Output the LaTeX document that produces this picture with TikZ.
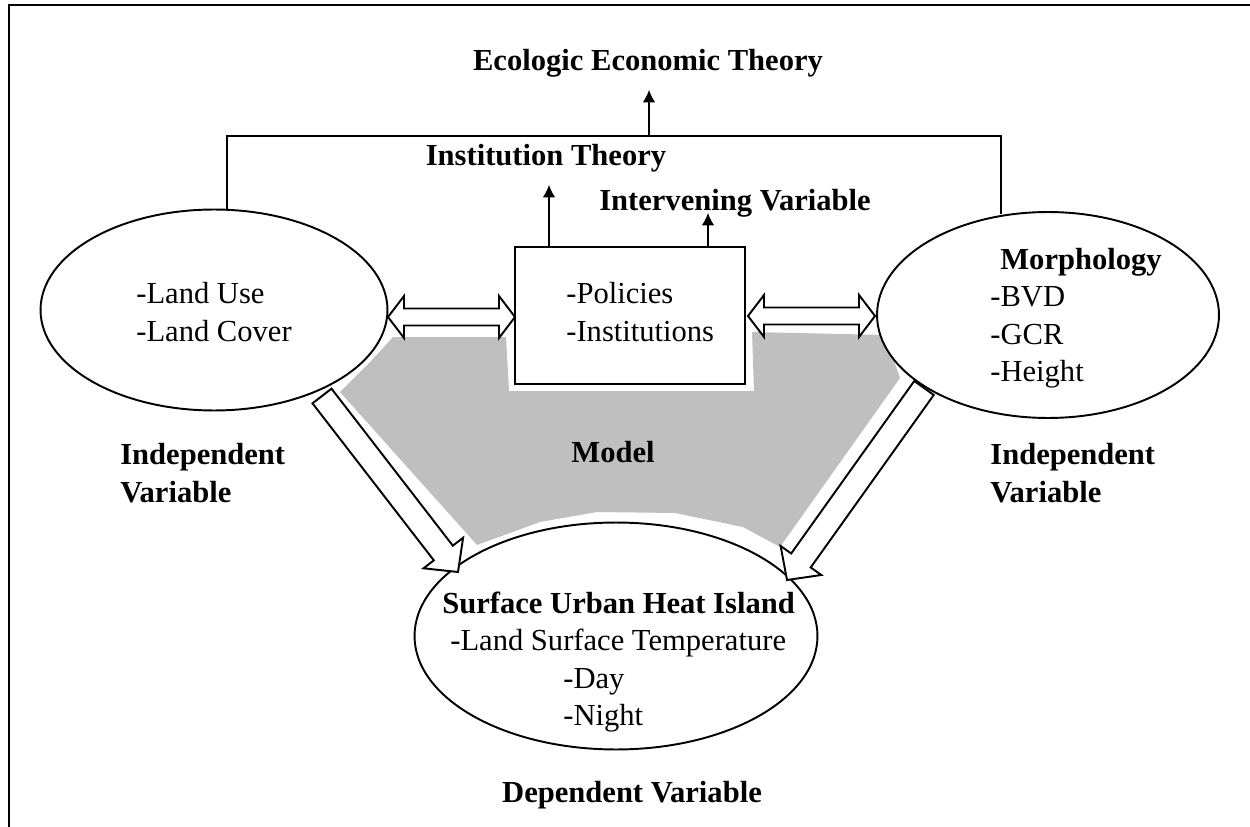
\documentclass[tikz,border=0pt]{standalone}
\usepackage{fontspec}
\setmainfont{Liberation Serif}
\usetikzlibrary{shapes.geometric,arrows.meta,calc}

\tikzset{
  oval/.style={ellipse, draw, line width=1.1pt, fill=white, inner sep=0pt},
  lbl/.style={font=\fontsize{17.4}{21.3}\selectfont\bfseries, inner sep=0pt},
  txt/.style={font=\fontsize{17.4}{21.3}\selectfont, align=left, inner sep=0pt},
  arr/.style={-{Latex[length=7pt,width=7pt]}, line width=0.6pt},
  hollow/.style={draw, line width=1.1pt, fill=white, line join=miter},
}

% fat hollow arrow from #1 (tail) to #2 (tip)
\newcommand{\fatarrow}[2]{%
  \coordinate (h) at ($(#2)!0.48cm!(#1)$);
  \draw[hollow] ($(#1)!0.24cm!90:(#2)$) -- ($(h)!0.24cm!90:(#2)$)
    -- ($(h)!0.5cm!90:(#2)$) -- (#2) -- ($(h)!0.5cm!-90:(#2)$)
    -- ($(h)!0.24cm!-90:(#2)$) -- ($(#1)!0.24cm!-90:(#2)$) -- cycle;
}
% hollow arrow with a head at both ends
\newcommand{\twowayarrow}[2]{%
  \coordinate (h1) at ($(#1)!0.32cm!(#2)$);
  \coordinate (h2) at ($(#2)!0.32cm!(#1)$);
  \draw[hollow] (#1) -- ($(h1)!0.42cm!90:(#2)$) -- ($(h1)!0.17cm!90:(#2)$)
    -- ($(h2)!0.17cm!90:(#2)$) -- ($(h2)!0.42cm!90:(#2)$) -- (#2)
    -- ($(h2)!0.42cm!-90:(#2)$) -- ($(h2)!0.17cm!-90:(#2)$)
    -- ($(h1)!0.17cm!-90:(#2)$) -- ($(h1)!0.42cm!-90:(#2)$) -- cycle;
}

\begin{document}
\begin{tikzpicture}[x=0.02cm, y=-0.02cm]
\useasboundingbox (0,0) rectangle (1250,827);

% grey model area
\fill[gray!50] (393,337) -- (506,337) -- (509,391) -- (754,391) -- (752,332)
  -- (885,335) -- (900,378) -- (780,547) -- (743,527) -- (675,513)
  -- (597,512) -- (540,522) -- (477,545) -- (340,392) -- (372,360) -- cycle;

% frame
\draw[line width=1.6pt] (9,840) -- (9,5) -- (1260,5);

% ovals and the box
\node[oval, minimum width=6.94cm, minimum height=4.02cm] (luc) at (214,310) {};
\node[oval, minimum width=6.84cm, minimum height=4.12cm] (morph) at (1048,315) {};
\node[oval, minimum width=8.06cm, minimum height=4.54cm] (suhi) at (616,636) {};
\node[draw, line width=1.1pt, fill=white, minimum width=4.6cm, minimum height=2.74cm] (pol) at (630,315.5) {};

\node[txt] (luctxt) at (214,312) {-Land Use\\-Land Cover};
\node[txt, anchor=west] (morphtxt) at (990,318) {\hspace*{0.2cm}\textbf{Morphology}\\-BVD\\-GCR\\-Height};
\node[txt, anchor=west] (poltxt) at (566,312) {-Policies\\-Institutions};
\node[txt, anchor=west] (suhitxt) at (442,662) {\textbf{Surface Urban Heat Island}\\
  \hspace*{0.16cm}-Land Surface Temperature\\\hspace*{2.42cm}-Day\\\hspace*{2.42cm}-Night};

% labels
\node[lbl] (eet) at (648,63) {Ecologic Economic Theory};
\node[lbl] (it) at (546,158) {Institution Theory};
\node[lbl] (iv) at (735,203) {Intervening Variable};
\node[lbl] (model) at (613,452) {Model};
\node[lbl, align=left, anchor=west] (indl) at (120,473) {Independent\\Variable};
\node[lbl, align=left, anchor=west] (indr) at (990,473) {Independent\\Variable};
\node[lbl] (dv) at (632,795) {Dependent Variable};

% theory links
\coordinate (eco) at (649,136);
\coordinate (ecotip) at (649,90);
\coordinate (ittip) at (549,185);
\coordinate (ivtip) at (708,213);
\draw[line width=0.6pt] (luc.north -| 227,0) |- (eco) -| (1001,214);
\draw[arr] (eco) -- (ecotip);
\draw[arr] (pol.north -| 549,0) -- (ittip);
\draw[arr] (pol.north -| 708,0) -- (ivtip);

% two-way links to the box
\coordinate (la) at (388,317);
\coordinate (lb) at (515,317);
\coordinate (ra) at (748,316);
\coordinate (rb) at (875,316);
\twowayarrow{la}{lb}
\twowayarrow{ra}{rb}

% links down to the heat island
\coordinate (lt) at (322,396);
\coordinate (lh) at (458,572);
\coordinate (rt) at (924,388);
\coordinate (rh) at (787,580);
\fatarrow{lt}{lh}
\fatarrow{rt}{rh}

\end{tikzpicture}
\end{document}
